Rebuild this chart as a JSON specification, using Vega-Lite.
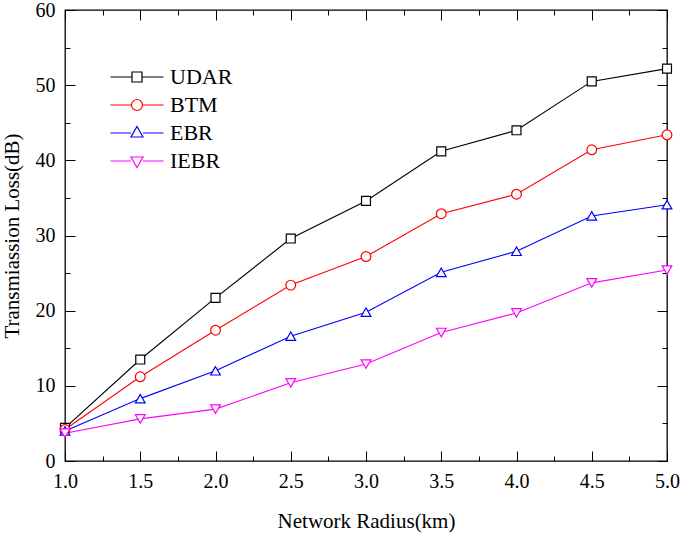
{
  "$schema": "https://vega.github.io/schema/vega-lite/v6.json",
  "width": 602,
  "height": 451,
  "autosize": {"type": "none"},
  "padding": {"left": 65, "top": 10, "right": 18, "bottom": 72},
  "background": "white",
  "config": {
    "view": {"stroke": "black", "strokeWidth": 1.3},
    "font": "Liberation Serif",
    "axis": {"grid": false, "domain": false, "labelFont": "Liberation Serif", "titleFont": "Liberation Serif", "labelColor": "black", "titleColor": "black", "tickColor": "black", "labelFontSize": 20, "titleFontSize": 21, "titleFontWeight": "normal"}
  },
  "data": {"values": [
    {"r": 1.0, "loss": 4.4, "method": "UDAR"},
    {"r": 1.5, "loss": 13.5, "method": "UDAR"},
    {"r": 2.0, "loss": 21.7, "method": "UDAR"},
    {"r": 2.5, "loss": 29.6, "method": "UDAR"},
    {"r": 3.0, "loss": 34.6, "method": "UDAR"},
    {"r": 3.5, "loss": 41.2, "method": "UDAR"},
    {"r": 4.0, "loss": 44.0, "method": "UDAR"},
    {"r": 4.5, "loss": 50.5, "method": "UDAR"},
    {"r": 5.0, "loss": 52.2, "method": "UDAR"},
    {"r": 1.0, "loss": 4.2, "method": "BTM"},
    {"r": 1.5, "loss": 11.2, "method": "BTM"},
    {"r": 2.0, "loss": 17.4, "method": "BTM"},
    {"r": 2.5, "loss": 23.4, "method": "BTM"},
    {"r": 3.0, "loss": 27.2, "method": "BTM"},
    {"r": 3.5, "loss": 32.9, "method": "BTM"},
    {"r": 4.0, "loss": 35.5, "method": "BTM"},
    {"r": 4.5, "loss": 41.4, "method": "BTM"},
    {"r": 5.0, "loss": 43.4, "method": "BTM"},
    {"r": 1.0, "loss": 4.0, "method": "EBR"},
    {"r": 1.5, "loss": 8.3, "method": "EBR"},
    {"r": 2.0, "loss": 12.0, "method": "EBR"},
    {"r": 2.5, "loss": 16.6, "method": "EBR"},
    {"r": 3.0, "loss": 19.8, "method": "EBR"},
    {"r": 3.5, "loss": 25.1, "method": "EBR"},
    {"r": 4.0, "loss": 27.9, "method": "EBR"},
    {"r": 4.5, "loss": 32.6, "method": "EBR"},
    {"r": 5.0, "loss": 34.1, "method": "EBR"},
    {"r": 1.0, "loss": 3.7, "method": "IEBR"},
    {"r": 1.5, "loss": 5.6, "method": "IEBR"},
    {"r": 2.0, "loss": 6.9, "method": "IEBR"},
    {"r": 2.5, "loss": 10.4, "method": "IEBR"},
    {"r": 3.0, "loss": 12.9, "method": "IEBR"},
    {"r": 3.5, "loss": 17.1, "method": "IEBR"},
    {"r": 4.0, "loss": 19.7, "method": "IEBR"},
    {"r": 4.5, "loss": 23.7, "method": "IEBR"},
    {"r": 5.0, "loss": 25.4, "method": "IEBR"}
  ]},
  "resolve": {"axis": {"x": "independent", "y": "independent"}},
  "layer": [
    {
      "mark": {"type": "line", "strokeWidth": 1.1},
      "encoding": {
        "x": {"field": "r", "type": "quantitative", "scale": {"domain": [1, 5], "nice": false, "zero": false},
              "axis": {"orient": "bottom", "values": [1, 1.5, 2, 2.5, 3, 3.5, 4, 4.5, 5], "format": ".1f", "ticks": false, "labelPadding": 10, "title": "Network Radius(km)", "titlePadding": 19, "labelFlush": false}},
        "y": {"field": "loss", "type": "quantitative", "scale": {"domain": [0, 60], "nice": false},
              "axis": {"orient": "left", "values": [0, 10, 20, 30, 40, 50, 60], "ticks": false, "labelPadding": 10, "title": "Transmiassion Loss(dB)", "titlePadding": 13}},
        "color": {"field": "method", "type": "nominal",
                  "scale": {"domain": ["UDAR", "BTM", "EBR", "IEBR"], "range": ["#000000", "#ff0000", "#0000ff", "#ff00ff"]},
                  "legend": {"orient": "none", "legendX": 61, "legendY": 56, "title": null, "padding": 0,
                             "labelFontSize": 22, "labelFont": "Liberation Serif", "labelColor": "black", "labelOffset": 22,
                             "symbolSize": 400, "symbolStrokeWidth": 1.2, "rowPadding": 6,
                             "encode": {"symbols": {"update": {
                               "shape": {"signal": "datum.value === 'UDAR' ? 'M-2.65,0H-0.5M0.5,0H2.65M-0.5,-0.5H0.5V0.5H-0.5Z' : datum.value === 'BTM' ? 'M-2.65,0H-0.55M0.55,0H2.65M-0.55,0A0.55,0.55,0,1,0,0.55,0A0.55,0.55,0,1,0,-0.55,0Z' : datum.value === 'EBR' ? 'M-2.65,0H-0.6M0.6,0H2.65M0,-0.65L0.6,0.4H-0.6Z' : 'M-2.65,0H-0.6M0.6,0H2.65M0,0.65L0.6,-0.4H-0.6Z'"},
                               "fill": {"value": "transparent"}
                             }}}}}
      }
    },
    {
      "transform": [{"filter": "datum.method === 'UDAR'"}],
      "mark": {"type": "point", "shape": "square", "filled": false, "fill": "white", "fillOpacity": 1, "opacity": 1, "strokeWidth": 1.2, "size": 80, "color": "#000000"},
      "encoding": {
        "x": {"field": "r", "type": "quantitative", "axis": {"orient": "bottom", "values": [1, 1.5, 2, 2.5, 3, 3.5, 4, 4.5, 5], "labels": false, "tickSize": -10, "title": null}},
        "y": {"field": "loss", "type": "quantitative", "axis": {"orient": "left", "values": [0, 10, 20, 30, 40, 50, 60], "labels": false, "tickSize": -10, "title": null}}
      }
    },
    {
      "transform": [{"filter": "datum.method === 'BTM'"}],
      "mark": {"type": "point", "shape": "circle", "filled": false, "fill": "white", "fillOpacity": 1, "opacity": 1, "strokeWidth": 1.2, "size": 95, "color": "#ff0000"},
      "encoding": {
        "x": {"field": "r", "type": "quantitative", "axis": {"orient": "bottom", "values": [1.25, 1.75, 2.25, 2.75, 3.25, 3.75, 4.25, 4.75], "labels": false, "tickSize": -5, "title": null}},
        "y": {"field": "loss", "type": "quantitative", "axis": {"orient": "left", "values": [5, 15, 25, 35, 45, 55], "labels": false, "tickSize": -5, "title": null}}
      }
    },
    {
      "transform": [{"filter": "datum.method === 'EBR'"}],
      "mark": {"type": "point", "shape": "triangle-up", "filled": false, "fill": "white", "fillOpacity": 1, "opacity": 1, "strokeWidth": 1.2, "size": 95, "color": "#0000ff"},
      "encoding": {
        "x": {"field": "r", "type": "quantitative", "axis": {"orient": "top", "values": [1, 1.5, 2, 2.5, 3, 3.5, 4, 4.5, 5], "labels": false, "tickSize": -10, "title": null}},
        "y": {"field": "loss", "type": "quantitative", "axis": {"orient": "right", "values": [0, 10, 20, 30, 40, 50, 60], "labels": false, "tickSize": -10, "title": null}}
      }
    },
    {
      "transform": [{"filter": "datum.method === 'IEBR'"}],
      "mark": {"type": "point", "shape": "triangle-down", "filled": false, "fill": "white", "fillOpacity": 1, "opacity": 1, "strokeWidth": 1.2, "size": 95, "color": "#ff00ff"},
      "encoding": {
        "x": {"field": "r", "type": "quantitative", "axis": {"orient": "top", "values": [1.25, 1.75, 2.25, 2.75, 3.25, 3.75, 4.25, 4.75], "labels": false, "tickSize": -5, "title": null}},
        "y": {"field": "loss", "type": "quantitative", "axis": {"orient": "right", "values": [5, 15, 25, 35, 45, 55], "labels": false, "tickSize": -5, "title": null}}
      }
    }
  ]
}
